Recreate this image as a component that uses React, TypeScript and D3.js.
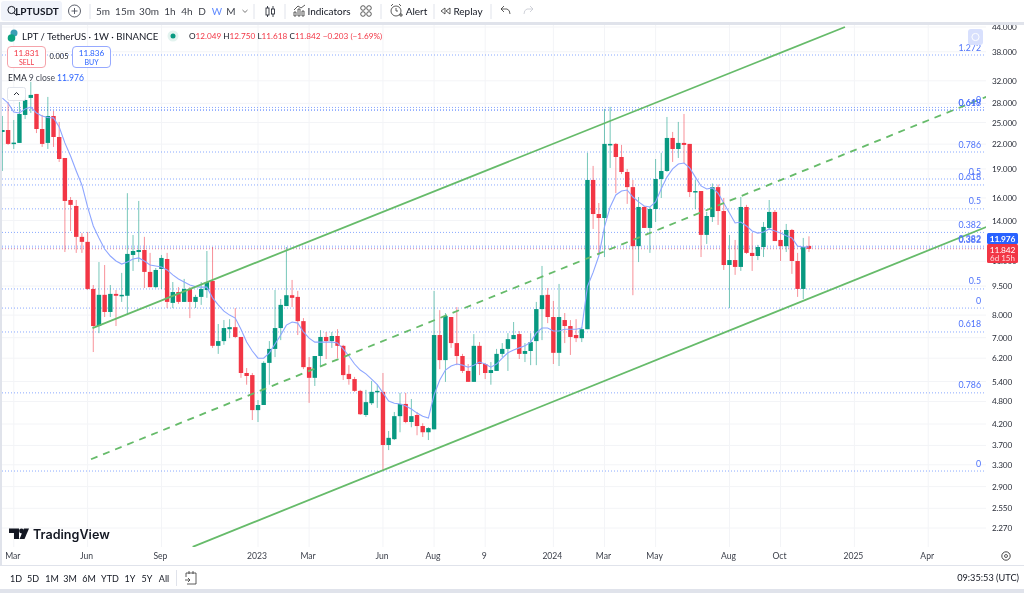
import React from "react";
import * as d3 from "d3";

const opens = [23.64,23.92,22.03,22.16,26.15,28.92,29.61,24.06,22.16,25.99,
22.95,20.27,15.81,15.26,12.71,12.34,9.34,7.5,9.02,8.15,
9.07,8.97,8.97,11.42,11.62,11.76,10.33,9.44,10.51,11.15,
8.6,9.17,8.65,9.34,8.65,8.91,9.28,9.79,6.67,6.86,
7.36,7.45,7.03,5.68,5.61,4.56,4.7,6.03,6.55,7.41,
8.44,9.0,8.91,7.72,5.88,5.52,6.28,7.03,6.86,7.07,
6.67,5.65,5.48,5.11,4.43,4.75,5.08,5.08,3.71,3.84,
4.4,4.73,4.25,4.43,4.15,4.0,4.07,7.11,6.13,7.91,
6.78,6.28,5.75,5.39,6.67,5.99,5.68,5.75,6.36,6.55,
6.94,7.15,6.36,6.47,6.86,8.29,9.02,7.91,6.4,7.77,
7.5,7.11,6.98,7.36,17.8,14.55,14.21,21.9,22.03,20.39,
18.66,17.06,12.03,15.17,13.4,14.99,17.9,18.77,22.82,21.38,
22.16,22.03,16.57,16.67,12.86,14.29,17.06,14.81,10.76,11.08,
10.64,15.17,11.56,11.35,11.97,13.4,14.73,12.48,12.03,13.24,
11.02,9.34,12.049];
const closes = [23.92,22.03,22.2,26.3,28.57,29.44,24.06,22.03,25.99,22.95,
20.15,15.72,15.36,12.71,12.34,9.34,7.5,9.02,8.15,9.07,
8.97,9.02,11.49,11.69,11.76,10.33,9.44,10.45,11.22,8.65,
9.17,8.65,9.34,8.65,8.91,9.34,9.73,6.67,6.86,7.41,
7.45,7.03,5.68,5.58,4.56,4.7,6.03,6.55,7.41,8.5,
9.0,8.86,7.72,5.88,5.52,6.28,7.03,6.86,7.07,6.67,
5.61,5.48,5.11,4.45,4.78,5.08,5.11,3.71,3.87,4.4,
4.73,4.25,4.4,4.15,4.0,4.1,7.11,6.13,7.96,6.78,
6.28,5.75,5.39,6.67,5.99,5.68,5.78,6.36,6.55,6.94,
7.11,6.36,6.47,6.82,8.29,9.0,7.91,6.4,7.91,7.5,
7.03,6.98,7.36,17.8,14.55,14.21,22.03,22.03,20.39,18.66,
17.06,12.03,15.17,13.4,14.99,17.9,18.77,22.82,21.38,22.16,
21.9,16.57,16.67,12.86,14.38,17.06,14.81,10.76,11.08,10.64,
15.17,11.56,11.35,11.97,13.48,14.73,12.4,12.03,13.24,11.02,
9.34,11.97,11.842];
const highs = [25.99,28.24,25.38,28.24,29.09,31.79,29.61,26.15,29.09,26.77,
25.09,20.27,16.09,15.81,13.0,13.08,9.56,10.95,10.76,9.56,
9.28,10.27,16.46,12.85,15.72,12.71,11.56,10.57,11.42,11.56,
9.73,9.44,9.91,9.44,9.02,9.73,11.69,11.97,7.59,7.77,
7.81,8.34,7.03,5.85,5.68,4.84,6.09,6.86,9.28,8.8,
11.97,9.85,9.23,7.86,6.24,6.28,7.32,7.24,7.24,7.36,
6.71,5.95,5.55,5.14,5.14,5.42,5.3,5.68,4.03,4.51,
5.05,5.05,4.87,4.51,4.22,4.12,9.23,8.24,8.1,7.91,
8.39,6.36,5.99,7.15,6.82,6.03,6.06,6.55,6.78,7.19,
7.68,7.28,6.78,7.19,8.65,10.7,9.39,8.7,9.62,8.1,
7.77,7.81,7.45,20.9,19.34,15.53,27.09,27.43,22.16,21.9,
19.0,17.8,16.09,15.26,15.17,20.15,20.9,25.84,23.65,25.09,
26.3,22.03,17.8,16.67,14.73,17.43,17.33,16.0,12.85,12.48,
16.09,15.36,13.0,12.12,13.88,15.81,14.9,13.24,13.72,13.32,
11.56,12.63,12.75];
const lows = [18.77,21.9,21.38,22.16,25.53,26.46,23.49,21.64,21.38,21.64,
19.8,11.62,13.16,11.56,11.56,9.28,6.43,7.19,7.91,7.91,
7.5,8.65,8.0,10.39,10.95,9.39,9.44,9.39,9.34,8.34,
8.34,8.55,8.65,7.86,8.34,8.5,8.86,6.59,6.36,6.71,
6.98,6.98,5.52,5.3,4.3,4.25,4.7,5.3,6.24,6.9,
8.44,8.39,7.11,5.81,4.76,5.26,5.92,6.17,6.59,6.2,
5.45,5.3,5.08,4.43,4.38,4.7,4.62,3.2,3.6,3.82,
4.0,4.22,4.12,3.93,3.89,3.82,4.07,5.81,5.39,6.59,
5.95,5.68,5.39,5.39,5.61,5.48,5.3,5.75,6.24,5.75,
6.94,6.17,6.06,5.95,5.95,6.9,7.63,5.99,5.92,6.78,
6.32,6.82,6.82,7.36,13.32,11.42,11.28,19.11,16.46,18.43,
15.45,9.0,10.95,13.4,11.56,13.88,16.0,18.66,19.8,20.27,
19.68,16.09,14.99,11.28,12.19,13.88,13.64,10.45,8.34,10.15,
10.39,11.49,10.39,11.08,11.28,13.24,12.4,11.02,11.62,10.21,
8.91,8.8,11.618];
const ema9 = [28.9,28.05,26.6,26.46,27.1,27.4,26.46,25.99,25.76,25.7,
24.35,22.16,20.5,18.77,17.28,15.17,13.56,12.63,11.83,11.35,
11.02,10.82,10.95,11.15,11.22,11.02,10.76,10.7,10.64,10.45,
10.15,9.91,9.73,9.56,9.47,9.44,9.44,8.86,8.5,8.19,
8.0,7.86,7.36,6.82,6.47,6.2,6.2,6.4,6.74,7.11,
7.54,7.68,7.63,7.24,6.98,6.82,6.82,6.82,6.82,6.78,
6.55,6.28,5.99,5.78,5.65,5.48,5.3,5.05,4.81,4.75,
4.73,4.67,4.59,4.48,4.4,4.35,4.99,5.45,5.78,5.92,
5.99,5.95,5.88,5.95,6.06,5.99,5.88,5.99,6.2,6.4,
6.51,6.59,6.67,6.82,7.2,7.41,7.41,7.28,7.28,7.36,
7.36,7.36,7.41,9.48,10.3,11.35,13.48,15.17,16.29,16.67,
16.77,16.09,15.63,15.26,15.17,15.63,16.9,18.1,19.0,19.56,
19.68,19.11,18.1,17.18,16.87,16.98,16.46,15.53,14.64,13.8,
13.88,13.56,13.16,13.0,13.08,13.32,13.16,13.0,12.79,12.63,
12.03,11.97,11.976];

const priceTicks = [44,38,32,28,25,22,19,16,14,11,9.5,8,7,6.2,5.4,4.8,4.2,3.7,3.3,2.9,2.55,2.27];
const timeLabels = ["Mar","Jun","Sep","2023","Mar","Jun","Aug","9","2024","Mar","May","Aug","Oct","2025","Apr"];
const timeWeeks = [2,15,28,45,54,67,76,85,97,106,115,128,137,150,163];

const fibPrices = [37.28,27.33,26.92,26.92,21.0,17.9,17.28,15.0,13.05,12.03,11.9,9.34,8.34,7.24,5.05,3.18];
const fibLabels = ["1.272","0","0.618","0.649","0.786","0.5","0.618","0.5","0.382","0.382","0.382","0.5","0","0.618","0.786","0"];

const upperChannelWeeks = [15.86,148.34];
const upperChannelPrices = [7.41,44];
const midChannelWeeks = [15.6,173.2];
const midChannelPrices = [3.41,29.1];
const lowerChannelWeeks = [33.5,173.2];
const lowerChannelPrices = [2.03,13.47];

const intervals = [["5m",103],["15m",125],["30m",149],["1h",170],["4h",187],["D",202],["W",217],["M",231]] as const;
const ranges = [["1D",16],["5D",33],["1M",52],["3M",70],["6M",89],["YTD",110],["1Y",130],["5Y",147],["All",164]] as const;

const lastPrice = 11.842;
const GREEN = "#089981", RED = "#f23645", BLUE = "#2962ff", INK = "#131722";
const FONT = "Lato, sans-serif";
const paneL = 2, paneR = 986, paneT = 25, paneB = 547;

const x = d3.scaleLinear().domain([0, 142]).range([2.4, 808.96]);
const y = d3.scaleLog().domain([2.27, 44]).range([528, 27]);
const pathFrom = (xs: number[], ys: number[]) =>
  d3.line<number>().x((d) => x(d)).y((_, i) => y(ys[i]))(xs) as string;
const emaPath = d3.line<number>().x((_, i) => x(i)).y((d) => y(d))(ema9) as string;

function T(p: any) {
  const { children, ...rest } = p;
  return <text fontFamily={FONT} fill={INK} fontSize={10} textAnchor="middle" dominantBaseline="central" {...rest}>{children}</text>;
}

function Toolbar() {
  const seps = [90, 254, 285, 381, 434, 491];
  return (
    <g>
      <rect x={1} y={1} width={61} height={20} rx={3} fill="#f0f3fa" />
      <circle cx={11.5} cy={10} r={3.6} fill="none" stroke={INK} strokeWidth={1} />
      <path d="M14 12.8 L16.8 15.6" stroke={INK} strokeWidth={1} />
      <T x={37} y={11} fontSize={10} fontWeight={700} >LPTUSDT</T>
      <circle cx={74.5} cy={11} r={6} fill="none" stroke="#4a4e5a" strokeWidth={0.9} />
      <path d="M71.5 11 H77.5 M74.5 8 V14" stroke="#4a4e5a" strokeWidth={0.9} />
      {seps.map((s) => <line key={s} x1={s} x2={s} y1={4} y2={19} stroke="#e0e3eb" />)}
      {intervals.map(([t, c]) => (
        <T key={t} x={c} y={11} fontSize={10} fill={t === "W" ? BLUE : INK} opacity={t === "W" ? 0.75 : 0.85}>{t}</T>
      ))}
      <path d="M242.5 10 L245 12.4 L247.5 10" fill="none" stroke="#555" strokeWidth={0.8} />
      <path d="M267.5 6 V17 M273 6 V17" stroke={INK} strokeWidth={0.8} />
      <rect x={266} y={8} width={3} height={7} fill="#fff" stroke={INK} strokeWidth={0.8} />
      <rect x={271.5} y={9} width={3} height={5} fill="#fff" stroke={INK} strokeWidth={0.8} />
      <path d="M294 16 V12 H296 V16 Z M298 16 V9 H300 V16 Z M302 16 V11 H304 V16 Z M294 10 L298 6 L301 8 L305 5" fill="none" stroke="#333" strokeWidth={0.8} />
      <T x={329} y={11} fontSize={10}>Indicators</T>
      {[[363, 8], [369, 8], [363, 14], [369, 14]].map(([a, b]) => (
        <circle key={`${a}-${b}`} cx={a} cy={b} r={2.3} fill="none" stroke="#333" strokeWidth={0.8} />
      ))}
      <circle cx={396} cy={11} r={5} fill="none" stroke="#333" strokeWidth={0.8} />
      <path d="M391 6 L393 4 M401 6 L399 4 M396 8 V11 H398 M399 15 H403 M401 13 V17" fill="none" stroke="#333" strokeWidth={0.8} />
      <T x={416.5} y={11} fontSize={10}>Alert</T>
      <path d="M445 8 L441 11 L445 14 Z M450 8 L446 11 L450 14 Z" fill="none" stroke="#333" strokeWidth={0.8} />
      <T x={468} y={11} fontSize={10}>Replay</T>
      <path d="M501 9 H507 Q510 10 510 14 M501 9 L504 6 M501 9 L504 12" fill="none" stroke="#333" strokeWidth={0.8} />
      <path d="M533 9 H527 Q524 10 524 14 M533 9 L530 6 M533 9 L530 12" fill="none" stroke="#c4c7cf" strokeWidth={0.8} />
      <rect x={0} y={22} width={1024} height={3} fill="#e0e3eb" />
    </g>
  );
}

function Legend() {
  return (
    <g>
      <circle cx={14} cy={33} r={3.5} fill="#3a9fb5" />
      <circle cx={11.5} cy={38} r={3.8} fill="#0ba27f" />
      <T x={22} y={36} textAnchor="start" fontSize={9.6}>LPT / TetherUS · 1W · BINANCE</T>
      <circle cx={173} cy={36} r={5.5} fill="#e3f3ef" />
      <circle cx={173} cy={36} r={2.5} fill={GREEN} />
      <T x={189} y={36} textAnchor="start" fontSize={8.2} fill={RED}>
        <tspan fill={INK}>O</tspan>12.049 <tspan fill={INK}>H</tspan>12.750 <tspan fill={INK}>L</tspan>11.618 <tspan fill={INK}>C</tspan>11.842 −0.203 (−1.69%)
      </T>
      <rect x={7.5} y={46.5} width={38} height={21} rx={3.5} fill="#fff" stroke="#f5a3aa" strokeWidth={1} />
      <T x={26.5} y={53} fontSize={8.2} fill={RED}>11.831</T>
      <T x={26.5} y={62} fontSize={7} fill={RED}>SELL</T>
      <T x={59} y={56.5} fontSize={7.4}>0.005</T>
      <rect x={72.5} y={46.5} width={38} height={21} rx={3.5} fill="#fff" stroke="#96a9ff" strokeWidth={1} />
      <T x={91.5} y={53} fontSize={8.2} fill={BLUE}>11.836</T>
      <T x={91.5} y={62} fontSize={7} fill={BLUE}>BUY</T>
      <T x={8} y={78} textAnchor="start" fontSize={8.6}>EMA <tspan fill="#4a4e5a">9 close</tspan></T>
      <T x={57} y={78} textAnchor="start" fontSize={8.6} fill={BLUE}>11.976</T>
      <rect x={7.5} y={87.5} width={18} height={13} rx={2} fill="#fff" fillOpacity={0.9} stroke="#e0e3eb" />
      <path d="M14 95 L16.5 92.5 L19 95" fill="none" stroke={INK} strokeWidth={0.9} />
    </g>
  );
}

function Bottom() {
  return (
    <g>
      {timeLabels.map((t, i) => (
        <T key={i} x={x(timeWeeks[i]) - 1} y={556} fontSize={8.6} fill="#3a3e49">{t}</T>
      ))}
      <line x1={0} x2={1024} y1={565.5} y2={565.5} stroke="#e0e3eb" />
      {ranges.map(([t, c]) => <T key={t} x={c} y={578} fontSize={9}>{t}</T>)}
      <line x1={176.5} x2={176.5} y1={570} y2={586} stroke="#e0e3eb" />
      <path d="M186 573 H196 V584 H187 M186 573 V577 M189 571 V574 M193 571 V574 M185 580 H190 M188 578 L190 580 L188 582" fill="none" stroke="#333" strokeWidth={0.8} />
      <T x={1019} y={577} textAnchor="end" fontSize={9.2}>09:35:53 (UTC)</T>
      <circle cx={1006} cy={556} r={4.2} fill="none" stroke="#333" strokeWidth={0.9} />
      <circle cx={1006} cy={556} r={1.5} fill="none" stroke="#333" strokeWidth={0.8} />
      <rect x={0} y={589} width={1024} height={4} fill="#e0e3eb" />
      <path d="M9 528.5 H19 V539 H14 V533 H9 Z" fill={INK} />
      <circle cx={21.5} cy={531} r={2.4} fill={INK} />
      <path d="M24 528.5 H29 L24.5 539 H19.5 Z" fill={INK} />
      <T x={33} y={534} textAnchor="start" fontSize={12.6} fontWeight={600} fontFamily="Inter, sans-serif">TradingView</T>
    </g>
  );
}

export default function App() {
  return (
    <svg width={1024} height={593} viewBox="0 0 1024 593" style={{ position: "absolute", left: 0, top: 0, display: "block", filter: "blur(0.35px)" }}>
      <defs>
        <clipPath id="pane"><rect x={paneL} y={paneT} width={paneR - paneL} height={paneB - paneT} /></clipPath>
      </defs>
      <rect width={1024} height={593} fill="#fff" />
      <rect x={0} y={25} width={2} height={540} fill="#e0e3eb" />
      <g clipPath="url(#pane)">
        {priceTicks.map((p) => <line key={p} x1={paneL} x2={paneR} y1={y(p)} y2={y(p)} stroke="#f3f4f7" />)}
        {timeWeeks.map((w) => <line key={w} x1={x(w)} x2={x(w)} y1={paneT} y2={paneB} stroke="#f3f4f7" />)}
        {fibPrices.map((p, i) => (
          <line key={i} x1={paneL} x2={paneR} y1={y(p)} y2={y(p)} stroke={BLUE} strokeOpacity={0.55} strokeDasharray="1 2" />
        ))}
        <line x1={paneL} x2={paneR} y1={y(lastPrice)} y2={y(lastPrice)} stroke={RED} strokeOpacity={0.5} strokeDasharray="1 2" />
        {opens.map((o, i) => {
          const c = closes[i];
          const col = c >= o ? GREEN : RED;
          const top = y(Math.max(o, c));
          const bot = y(Math.min(o, c));
          return (
            <g key={i}>
              <line x1={x(i)} x2={x(i)} y1={y(highs[i])} y2={y(lows[i])} stroke={col} strokeOpacity={0.55} strokeWidth={1} />
              <rect x={x(i) - 2.2} y={top} width={4.4} height={Math.max(bot - top, 1.5)} fill={col} />
            </g>
          );
        })}
        <path d={emaPath} fill="none" stroke="#8ea6ff" strokeWidth={1.1} />
        <path d={pathFrom(upperChannelWeeks, upperChannelPrices)} fill="none" stroke="#66bb6a" strokeWidth={1.8} />
        <path d={pathFrom(midChannelWeeks, midChannelPrices)} fill="none" stroke="#66bb6a" strokeWidth={1.8} strokeDasharray="7 6" />
        <path d={pathFrom(lowerChannelWeeks, lowerChannelPrices)} fill="none" stroke="#66bb6a" strokeWidth={1.8} />
        {fibPrices.map((p, i) => (
          <T key={i} x={981} y={y(p) - 8} textAnchor="end" fontSize={8.8} fill="#4d72fb">{fibLabels[i]}</T>
        ))}
        <rect x={968} y={29} width={15} height={16} rx={3} fill="#d8e0fd" />
        <circle cx={975.5} cy={37} r={3.6} fill="none" stroke="#fff" strokeWidth={1} />
      </g>
      {priceTicks.map((p) => (
        <T key={p} x={992} y={y(p)} textAnchor="start" fontSize={8.2} letterSpacing={-0.2} fill="#2a2e39">{p.toFixed(3)}</T>
      ))}
      <rect x={987} y={233} width={31} height={11} rx={1.5} fill={BLUE} />
      <T x={1002.5} y={238.8} fontSize={8.4} letterSpacing={-0.1} fill="#fff" fontWeight={700}>11.976</T>
      <rect x={987} y={244} width={31} height={19} rx={1.5} fill={RED} />
      <T x={1002.5} y={249.5} fontSize={8.4} letterSpacing={-0.1} fill="#fff">11.842</T>
      <T x={1002.5} y={258} fontSize={8} fill="#ffd9dc">6d 15h</T>
      <Toolbar />
      <Legend />
      <Bottom />
    </svg>
  );
}
